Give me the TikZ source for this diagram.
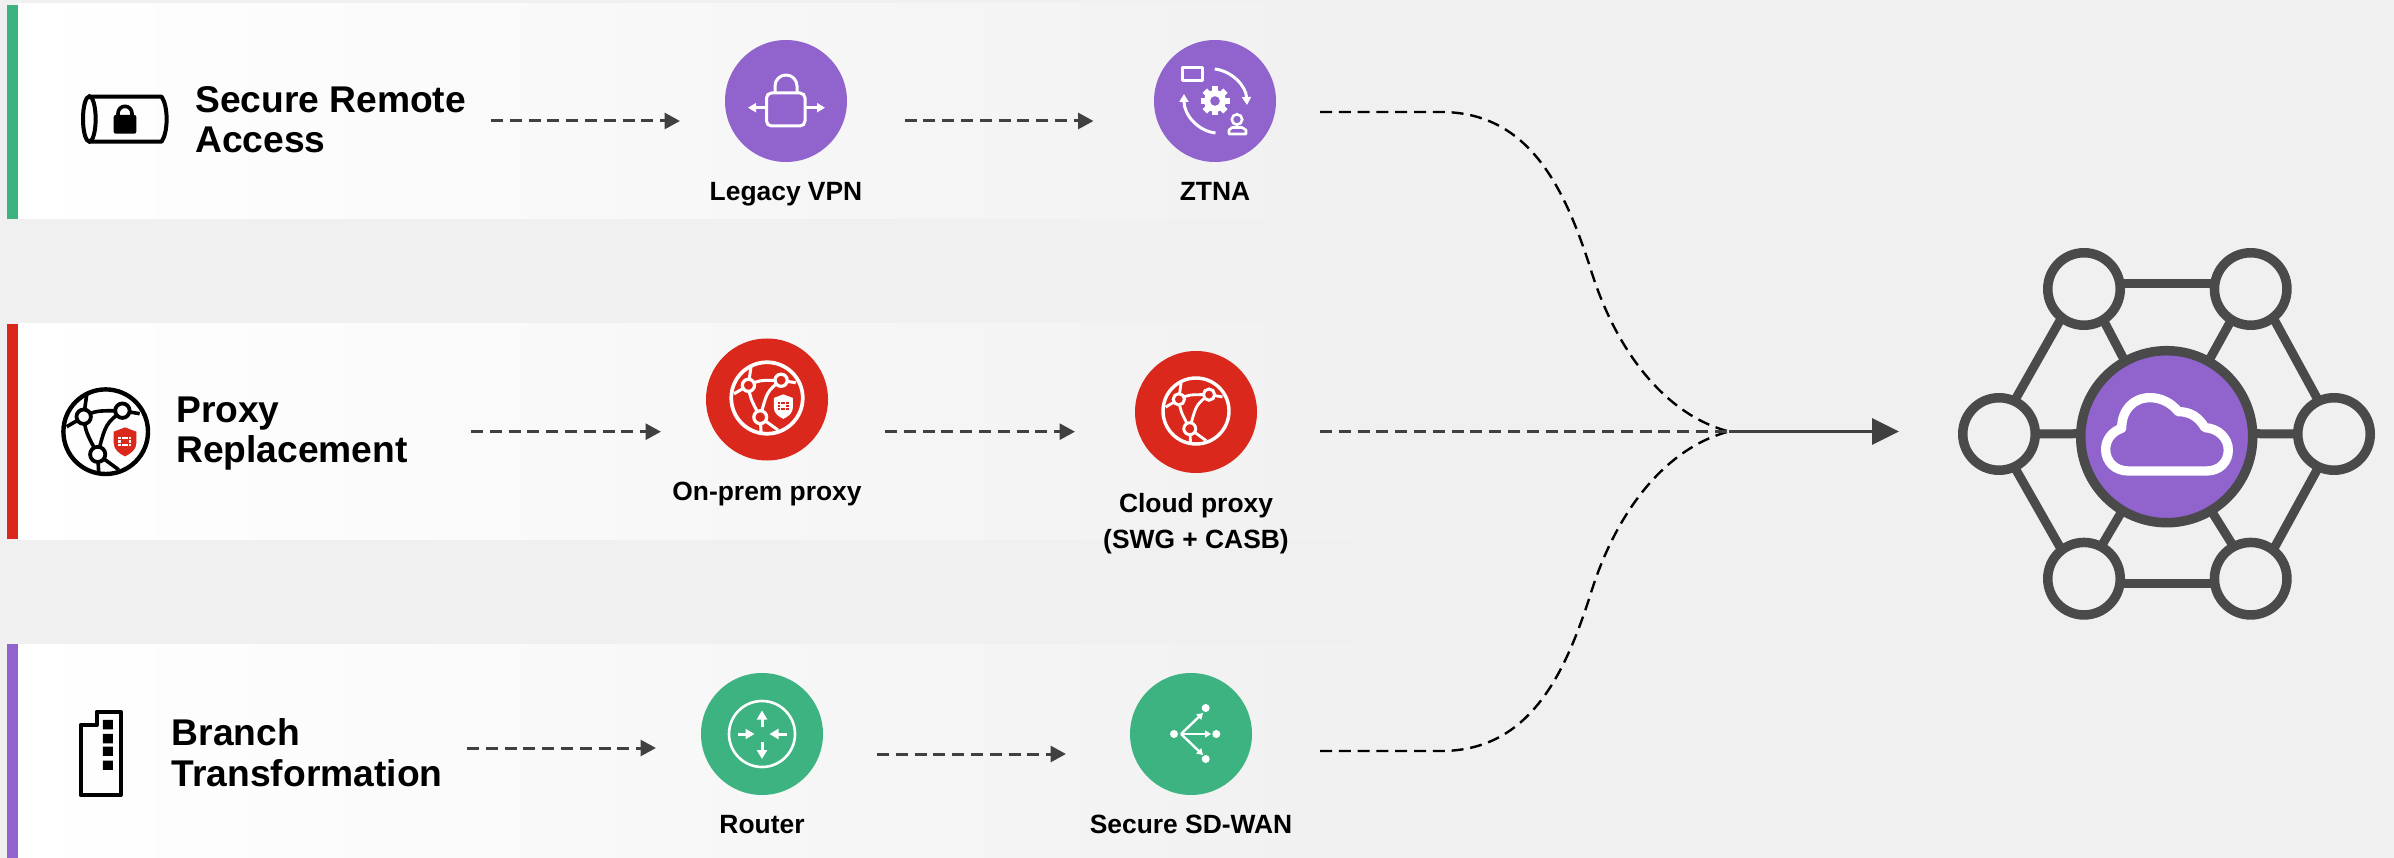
\documentclass[tikz,border=0pt]{standalone}
\usepackage{fontspec}
\setmainfont{Liberation Sans}
\usetikzlibrary{arrows.meta}
\definecolor{bgc}{HTML}{F0F0F0}
\definecolor{fgreen}{HTML}{3EB382}
\definecolor{fred}{HTML}{DA291C}
\definecolor{fpurple}{HTML}{9063CD}
\definecolor{dark}{HTML}{404040}
\definecolor{netc}{HTML}{4A4A4A}
\tikzset{
  x=1pt,y=-1pt,
  hub/.style={circle,minimum size=122pt,inner sep=0pt,outer sep=0pt},
  lab/.style={font=\bfseries\fontsize{26.4}{36}\selectfont,anchor=base,inner sep=0pt,align=center},
  ttl/.style={font=\bfseries\fontsize{37.2}{40.5}\selectfont,anchor=base west,inner sep=0pt,align=left},
  flow/.style={draw=dark,line width=3pt,dash pattern=on 12pt off 6.8pt,-{Triangle[length=15.5pt,width=16pt]}},
  curveflow/.style={draw=black,line width=2.4pt,dash pattern=on 12pt off 6.8pt},
  net/.style={circle,draw=netc,line width=9.5pt,minimum size=72.5pt,inner sep=0pt,outer sep=0pt},
  netline/.style={draw=netc,line width=9pt},
  wline/.style={draw=white,line width=3pt,line cap=round,line join=round},
  warrow/.style={draw=white,line width=3pt,-{Triangle[length=9pt,width=10pt]}}
}
% globe: cx, cy, scale, stroke, node fill, shield colour (or none), grid colour
\newcommand{\globeicon}[7]{%
\begin{scope}[shift={(#1,#2)},x=#3pt,y=-#3pt]
  \draw[#4,line width=#3*4.4pt] (0,0) circle[radius=42.3];
  \draw[#4,line width=#3*3.6pt]
    (-22,-15) .. controls (-10,-21) .. (16.7,-21)
    (-22,-15) .. controls (-20,0) .. (-8,22.7)
    (16.7,-21) .. controls (0,-8) .. (-8,22.7)
    (-22,-15) -- (-19,-37)
    (-22,-15) -- (-39,-5)
    (16.7,-21) -- (34,-18)
    (-8,22.7) -- (-7,41)
    (-8,22.7) -- (13,38);
  \draw[#4,fill=#5,line width=#3*3.8pt] (-22,-15) circle[radius=7.2];
  \draw[#4,fill=#5,line width=#3*3.8pt] (16.7,-21) circle[radius=7.2];
  \draw[#4,fill=#5,line width=#3*3.8pt] (-8,22.7) circle[radius=7.6];
  \ifx#6\relax\else
  \fill[#6] (19.3,-4.3) -- (30.7,0) -- (30.7,11) .. controls (30.7,18) and (25,22) .. (19.3,24.7) .. controls (13.6,22) and (8,18) .. (8,11) -- (8,0) -- cycle;
  \fill[#7] (12.7,5) rectangle (25.5,14.3);
  \draw[#6,line width=#3*0.7pt] (12.7,8) -- (25.5,8) (12.7,11.3) -- (25.5,11.3) (16,5) -- (16,14.3) (22.2,5) -- (22.2,14.3);
  \fill[#6] (16,8) rectangle (22.2,11.3);
  \fi
\end{scope}}
\begin{document}
\begin{tikzpicture}
\useasboundingbox (0,0) rectangle (2394,858);
\fill[bgc] (0,0) rectangle (2394,858);
% bands
\shade[left color=white,right color=bgc] (18,4) rectangle (1400,219);
\shade[left color=white,right color=bgc] (18,324) rectangle (1400,539);
\shade[left color=white,right color=bgc] (18,644) rectangle (1400,858);
\fill[fgreen] (7,5) rectangle (18,219);
\fill[fred] (7,324) rectangle (18,539);
\fill[fpurple] (7,644) rectangle (18,858);

% titles
\node[ttl] (t1) at (195,153) {Secure Remote\\Access};
\node[ttl] (t2) at (176,463) {Proxy\\Replacement};
\node[ttl] (t3) at (171.5,786) {Branch\\Transformation};

% tunnel icon
\begin{scope}[x=0.3333pt,y=-0.3333pt]
  \draw[black,line width=4pt,line join=round] (268,290) -- (485,290) .. controls (505,320) and (505,395) .. (485,425) -- (268,425);
  \draw[black,line width=4pt] (268,357) ellipse[x radius=19,y radius=68];
  \fill[black,rounded corners=2pt] (341,345) rectangle (409,401);
  \draw[black,line width=3.6pt] (354,350) -- (354,340) arc[start angle=180,end angle=360,radius=21] -- (396,350);
\end{scope}
% building icon
\begin{scope}[shift={(0,640)},x=0.3333pt,y=-0.3333pt]
  \draw[black,line width=4pt,line join=round] (242,255) -- (290,255) -- (290,215) -- (362,215) -- (362,465) -- (242,465) -- cycle;
  \fill[black] (309,240) rectangle (339,268) (309,282) rectangle (339,310) (309,320) rectangle (339,348) (309,362) rectangle (339,390);
\end{scope}
% black globe
\globeicon{105.7}{431.7}{1}{black}{white}{fred}{white}

% circles
\node[hub,fill=fpurple] (vpn) at (786,101) {};
\node[hub,fill=fpurple] (ztna) at (1215,101) {};
\node[hub,fill=fred] (onp) at (767,399.5) {};
\node[hub,fill=fred] (cld) at (1196,412) {};
\node[hub,fill=fgreen] (rtr) at (762,734) {};
\node[hub,fill=fgreen] (wan) at (1191,734) {};

% labels
\node[lab] (lvpn) at (786,200.5) {Legacy VPN};
\node[lab] (lztna) at (1215,200.5) {ZTNA};
\node[lab] (lonp) at (767,500) {On-prem proxy};
\node[lab] (lcld) at (1196,548) {Cloud proxy\\(SWG + CASB)};
\node[lab] (lrtr) at (762,833) {Router};
\node[lab] (lwan) at (1191,833) {Secure SD-WAN};

% VPN icon
\draw[white,line width=3pt,rounded corners=5pt] (766.5,93) rectangle (805,126);
\draw[wline] (775,92) -- (775,86) arc[start angle=180,end angle=360,radius=11] -- (797,92);
\draw[draw=white,line width=3pt,-{Triangle[length=8pt,width=9pt]}] (766.5,107.7) -- (748,107.7);
\draw[draw=white,line width=3pt,-{Triangle[length=8pt,width=9pt]}] (805,107.7) -- (825,107.7);

% ZTNA icon
\draw[white,line width=3pt,line join=round] (1182,68) rectangle (1202,81);
\draw[draw=white,line width=3pt,-{Triangle[length=8pt,width=9pt]}] (1214.7,69) .. controls (1232,71) and (1246,86) .. (1247,105);
\draw[draw=white,line width=3pt,-{Triangle[length=8pt,width=9pt]}] (1215.5,133) .. controls (1198,131) and (1184,115) .. (1184,94);
\foreach \a in {0,45,...,315}{\fill[white,rotate around={\a:(1215,101)}] (1212,86.5) rectangle (1218,115.5);}
\fill[white] (1215,101) circle[radius=11];
\fill[fpurple] (1215,101) circle[radius=4.8];
\draw[white,line width=2.6pt] (1237,119.5) circle[radius=5.2];
\draw[white,line width=2.6pt,line join=round] (1229,134) -- (1229,130) -- (1232,127.5) -- (1242,127.5) -- (1246,130) -- (1246,134) -- cycle;

% red globes
\globeicon{767}{398}{0.845}{white}{fred}{white}{fred}
\globeicon{1196}{411}{0.78}{white}{fred}{\relax}{fred}

% router icon
\draw[white,line width=2.6pt] (762,734) circle[radius=33];
\draw[warrow] (762,727) -- (762,710.5);
\draw[warrow] (762,741.5) -- (762,759);
\draw[warrow] (738,734) -- (754.5,734);
\draw[warrow] (787,734) -- (769.5,734);

% SD-WAN icon
\fill[white] (1174,734) circle[radius=4];
\fill[white] (1205.7,708) circle[radius=4];
\fill[white] (1216.3,734) circle[radius=4];
\fill[white] (1205.7,759) circle[radius=4];
\begin{scope}[every path/.style={draw=white,line width=2.4pt,-{Triangle[length=6pt,width=7pt]}}]
  \path (1181,734) -- (1203,713);
  \path (1181,734) -- (1211,734);
  \path (1181,734) -- (1203,755);
\end{scope}

% straight arrows
\coordinate (a1s) at (491,121); \coordinate (a1e) at (680,121);
\coordinate (a2s) at (904.5,121); \coordinate (a2e) at (1093.5,121);
\coordinate (b1s) at (471,431.7); \coordinate (b1e) at (661,431.7);
\coordinate (b2s) at (885,431.7); \coordinate (b2e) at (1075,431.7);
\coordinate (c1s) at (467,748); \coordinate (c1e) at (656,748);
\coordinate (c2s) at (877,754); \coordinate (c2e) at (1066,754);
\draw[flow] (a1s) -- (a1e);
\draw[flow] (a2s) -- (a2e);
\draw[flow] (b1s) -- (b1e);
\draw[flow] (b2s) -- (b2e);
\draw[flow] (c1s) -- (c1e);
\draw[flow] (c2s) -- (c2e);

% merge
\coordinate (top) at (1320,112);
\coordinate (mid) at (1320,431.5);
\coordinate (bot) at (1320,751);
\coordinate (mrg) at (1729,431.5);
\coordinate (tip) at (1899,431.5);
\draw[curveflow] (top) -- (1441,112) .. controls (1530,112) and (1565,190) .. (1590,267) .. controls (1615,350) and (1665,415) .. (mrg);
\draw[curveflow] (bot) -- (1441,751) .. controls (1530,751) and (1565,673) .. (1590,596) .. controls (1615,513) and (1665,448) .. (mrg);
\draw[draw=dark,line width=3pt,dash pattern=on 12pt off 6.8pt] (mid) -- (mrg);
\draw[draw=dark,line width=3pt,-{Triangle[length=27pt,width=26pt]}] (mrg) -- (tip);

% network
\node[circle,draw=netc,fill=fpurple,line width=9.5pt,minimum size=172pt,inner sep=0pt,outer sep=0pt] (C) at (2166.7,436.7) {};
\node[net] (TL) at (2084,289) {};
\node[net] (TR) at (2250.7,289) {};
\node[net] (L) at (1999,434) {};
\node[net] (R) at (2334,434) {};
\node[net] (BL) at (2084,578.7) {};
\node[net] (BR) at (2250.7,578.7) {};
\draw[netline] (TL.8) -- (TR.172);
\draw[netline] (BL.-8) -- (BR.188);
\draw[netline] (TL.232) -- (L.65);
\draw[netline] (TR.-52) -- (R.115);
\draw[netline] (L.-65) -- (BL.128);
\draw[netline] (R.-115) -- (BR.52);
\draw[netline] (TL.-58) -- (C.119);
\draw[netline] (TR.238) -- (C.61);
\draw[netline] (BL.62) -- (C.239);
\draw[netline] (BR.118) -- (C.-59);
\draw[netline] (L.0) -- (C.178);
\draw[netline] (R.180) -- (C.2);
% cloud
\begin{scope}[shift={(1940,240)},x=0.3333pt,y=-0.3333pt]
  \draw[white,line width=9.3pt,line join=round] (565,693) -- (800,693) .. controls (840,693) and (865,665) .. (865,630) .. controls (865,595) and (835,565) .. (795,563) .. controls (775,530) and (750,515) .. (715,515) .. controls (695,490) and (665,473) .. (630,473) .. controls (580,473) and (545,510) .. (545,565) .. controls (515,575) and (497,600) .. (497,628) .. controls (497,665) and (525,693) .. (565,693) -- cycle;
\end{scope}
\end{tikzpicture}
\end{document}
